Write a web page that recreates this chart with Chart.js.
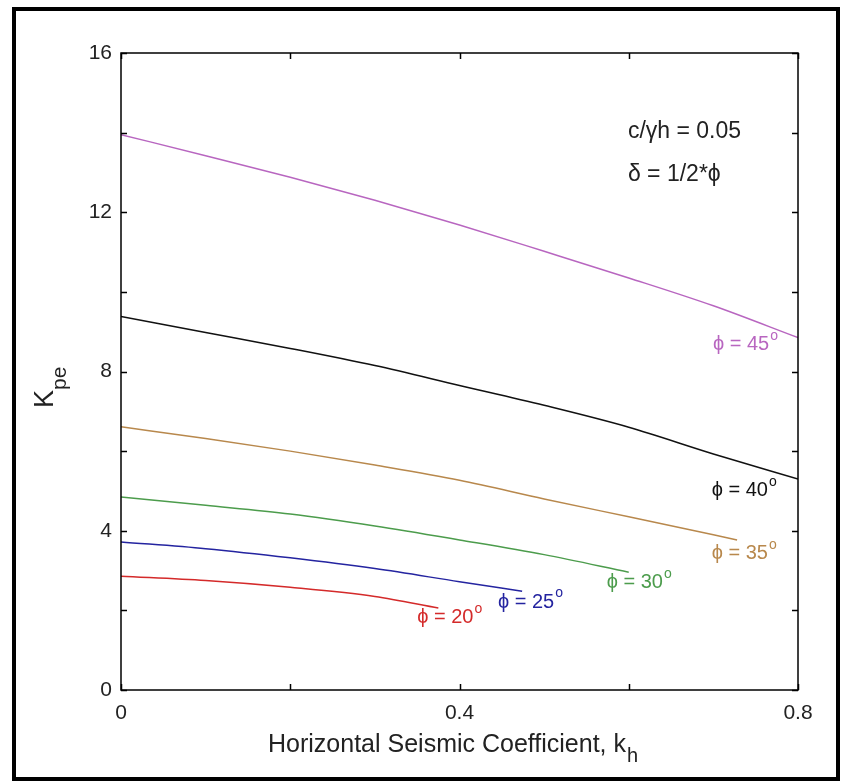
<!DOCTYPE html>
<html>
<head>
  <title>Kpe vs kh</title>
  <script src="https://cdn.jsdelivr.net/npm/chart.js"></script>
  <style>
    body { margin: 0; background: #fff; }
    #wrap { width: 849px; height: 783px; }
  </style>
</head>
<body>
  <div id="wrap"><canvas id="kpeChart"></canvas></div>

  <script>
    // values
    const phi20_kh = [0, 0.1, 0.2, 0.3, 0.375];
    const phi20_K  = [2.86, 2.75, 2.58, 2.35, 2.06];
    const phi25_kh = [0, 0.1, 0.2, 0.3, 0.4, 0.474];
    const phi25_K  = [3.72, 3.55, 3.32, 3.05, 2.72, 2.48];
    const phi30_kh = [0, 0.1, 0.2, 0.3, 0.4, 0.5, 0.6];
    const phi30_K  = [4.85, 4.64, 4.42, 4.12, 3.77, 3.4, 2.96];
    const phi35_kh = [0, 0.1, 0.2, 0.3, 0.4, 0.5, 0.6, 0.7, 0.728];
    const phi35_K  = [6.61, 6.32, 6.0, 5.65, 5.27, 4.8, 4.35, 3.9, 3.77];
    const phi40_kh = [0, 0.1, 0.2, 0.3, 0.4, 0.5, 0.6, 0.7, 0.8];
    const phi40_K  = [9.38, 8.98, 8.58, 8.15, 7.65, 7.15, 6.6, 5.93, 5.3];
    const phi45_kh = [0, 0.1, 0.2, 0.3, 0.4, 0.5, 0.6, 0.7, 0.8];
    const phi45_K  = [13.95, 13.42, 12.88, 12.3, 11.68, 11.02, 10.35, 9.65, 8.85];

    const seriesLabels = ['20', '25', '30', '35', '40', '45'];
    const xTickLabels = [0, 0.4, 0.8];
    const yTickLabels = [0, 4, 8, 12, 16];
    const xTickMarks = [0, 0.2, 0.4, 0.6, 0.8];
    const yTickMarks = [0, 2, 4, 6, 8, 10, 12, 14, 16];

    const colors = ['#d42a2a', '#2424a0', '#4c9c4c', '#b8884c', '#111111', '#b866c0'];
    // where the phi labels sit, in data units (kh, K)
    const labelPos = [[0.350, 1.81], [0.4455, 2.21], [0.574, 2.71], [0.698, 3.44], [0.698, 5.02], [0.6995, 8.67]];

    const FONT = '"Liberation Sans", Arial, sans-serif';
    const PHI = '\u03d5';

    function toPts(xs, ys) {
      return xs.map((x, i) => ({ x: x, y: ys[i] }));
    }

    const allSeries = [
      toPts(phi20_kh, phi20_K), toPts(phi25_kh, phi25_K), toPts(phi30_kh, phi30_K),
      toPts(phi35_kh, phi35_K), toPts(phi40_kh, phi40_K), toPts(phi45_kh, phi45_K)
    ];

    function degText(ctx, txt, x, y, size) {
      ctx.font = size + 'px ' + FONT;
      ctx.fillText(txt, x, y);
      const w = ctx.measureText(txt).width;
      ctx.font = Math.round(size * 0.7) + 'px ' + FONT;
      ctx.fillText('o', x + w + 1, y - size * 0.42);
    }

    const decor = {
      id: 'decor',
      afterDraw(chart) {
        const ctx = chart.ctx;
        const a = chart.chartArea;
        const xs = chart.scales.x, ys = chart.scales.y;
        ctx.save();

        // page frame
        ctx.strokeStyle = '#000';
        ctx.lineWidth = 4;
        ctx.strokeRect(14, 9, 824, 770);

        // axes box
        ctx.lineWidth = 1.5;
        ctx.strokeRect(a.left, a.top, a.right - a.left, a.bottom - a.top);

        // inner tick marks
        ctx.beginPath();
        yTickMarks.forEach(v => {
          const py = Math.round(ys.getPixelForValue(v)) + 0.5;
          ctx.moveTo(a.left, py); ctx.lineTo(a.left + 6, py);
          ctx.moveTo(a.right, py); ctx.lineTo(a.right - 6, py);
        });
        xTickMarks.forEach(v => {
          const px = Math.round(xs.getPixelForValue(v)) + 0.5;
          ctx.moveTo(px, a.bottom); ctx.lineTo(px, a.bottom - 6);
          ctx.moveTo(px, a.top); ctx.lineTo(px, a.top + 6);
        });
        ctx.stroke();

        // x title with subscript
        ctx.fillStyle = '#222';
        ctx.textBaseline = 'alphabetic';
        ctx.textAlign = 'left';
        ctx.font = '25px ' + FONT;
        const xt = 'Horizontal Seismic Coefficient, k';
        ctx.fillText(xt, 268, 752);
        const xw = ctx.measureText(xt).width;
        ctx.font = '20px ' + FONT;
        ctx.fillText('h', 268 + xw + 1, 762);

        // y title, rotated
        ctx.save();
        ctx.translate(53, 408);
        ctx.rotate(-Math.PI / 2);
        ctx.font = '27px ' + FONT;
        ctx.fillText('K', 0, 0);
        const kw = ctx.measureText('K').width;
        ctx.font = '21px ' + FONT;
        ctx.fillText('pe', kw, 13);
        ctx.restore();

        // phi labels
        ctx.textBaseline = 'middle';
        seriesLabels.forEach((s, i) => {
          ctx.fillStyle = colors[i];
          const px = xs.getPixelForValue(labelPos[i][0]);
          const py = ys.getPixelForValue(labelPos[i][1]);
          degText(ctx, PHI + ' = ' + s, px, py, 20);
        });

        // annotation
        ctx.fillStyle = '#222';
        ctx.font = '23px ' + FONT;
        ctx.fillText('c/\u03b3h = 0.05', xs.getPixelForValue(0.599), ys.getPixelForValue(14.02));
        ctx.fillText('\u03b4 = 1/2*' + PHI, xs.getPixelForValue(0.599), ys.getPixelForValue(12.94));

        ctx.restore();
      }
    };

    const ctx = document.getElementById('kpeChart').getContext('2d');
    new Chart(ctx, {
      type: 'scatter',
      data: {
        datasets: allSeries.map((pts, i) => ({
          label: 'phi = ' + seriesLabels[i],
          data: pts,
          showLine: true,
          borderColor: colors[i],
          borderWidth: 1.5,
          pointRadius: 0,
          cubicInterpolationMode: 'monotone'
        }))
      },
      options: {
        responsive: true,
        maintainAspectRatio: false,
        animation: false,
        layout: { padding: { top: 53, right: 51, left: 0, bottom: 0 } },
        plugins: { legend: { display: false }, tooltip: { enabled: false } },
        scales: {
          x: {
            type: 'linear', min: 0, max: 0.8,
            grid: { display: false, drawTicks: false },
            border: { display: false },
            afterBuildTicks: s => { s.ticks = xTickLabels.map(v => ({ value: v })); },
            afterFit: s => { s.height = 93; },
            ticks: {
              padding: 11, color: '#222',
              font: { family: FONT, size: 21 },
              callback: v => String(Number(v.toFixed(1)))
            }
          },
          y: {
            type: 'linear', min: 0, max: 16,
            grid: { display: false, drawTicks: false },
            border: { display: false },
            afterBuildTicks: s => { s.ticks = yTickLabels.map(v => ({ value: v })); },
            afterFit: s => { s.width = 121; },
            ticks: {
              padding: 9, color: '#222',
              font: { family: FONT, size: 21 }
            }
          }
        }
      },
      plugins: [decor]
    });
  </script>
</body>
</html>
